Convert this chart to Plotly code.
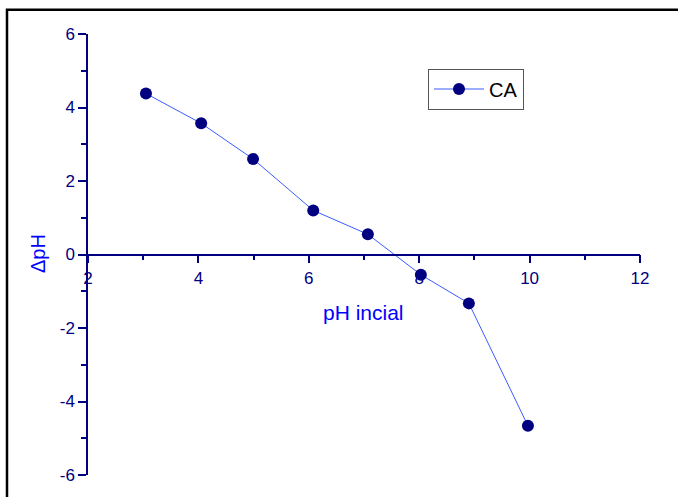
import plotly.graph_objects as go

# Data
ph_initial = [3.05, 4.05, 4.99, 6.08, 7.07, 8.03, 8.90, 9.97]
delta_ph = [4.38, 3.57, 2.60, 1.20, 0.55, -0.55, -1.33, -4.66]
series_name = "CA"
x_ticks = [2, 4, 6, 8, 10, 12]
y_ticks = [-6, -4, -2, 0, 2, 4, 6]

W, H = 678, 497
L, R, T, B = 88, 38, 34, 18
pw, ph = W - L - R, H - T - B

def px_x(p):
    return (p - L) / pw

def px_y(p):
    return (H - B - p) / ph

navy = "#000080"
blue = "#0000ff"
font = "Liberation Sans, Arial, sans-serif"

fig = go.Figure()
fig.add_trace(go.Scatter(
    x=ph_initial, y=delta_ph, name=series_name,
    mode="lines+markers",
    line=dict(color="#3a5cff", width=1),
    marker=dict(color=navy, size=12, symbol="circle"),
))

fig.update_layout(
    width=W, height=H,
    margin=dict(l=L, r=R, t=T, b=B),
    paper_bgcolor="white", plot_bgcolor="white",
    font=dict(family=font, color=navy, size=17),
    showlegend=True,
    legend=dict(
        x=px_x(428), y=px_y(89.5), xanchor="left", yanchor="middle",
        bordercolor="#555555", borderwidth=1, bgcolor="white",
        font=dict(family=font, size=20, color="black"),
        itemwidth=50,
        tracegroupgap=0,
    ),
    xaxis=dict(
        range=[2, 12], tickvals=x_ticks, ticktext=[str(v) for v in x_ticks],
        showgrid=False, zeroline=False,
        showline=True, linecolor=navy, linewidth=1.5,
        ticks="outside", ticklen=8, tickwidth=1.5, tickcolor=navy,
        minor=dict(dtick=1, ticks="outside", ticklen=5, tickwidth=1.5, tickcolor=navy),
        anchor="free", position=0.5,
        tickfont=dict(family=font, size=17, color=navy),
    ),
    yaxis=dict(
        range=[-6, 6], tickvals=y_ticks, ticktext=[str(v) for v in y_ticks],
        showgrid=False, zeroline=False,
        showline=True, linecolor=navy, linewidth=1.5,
        ticks="outside", ticklen=8, tickwidth=1.5, tickcolor=navy,
        minor=dict(dtick=1, ticks="outside", ticklen=5, tickwidth=1.5, tickcolor=navy),
        tickfont=dict(family=font, size=17, color=navy),
    ),
    shapes=[dict(
        type="rect", xref="paper", yref="paper",
        x0=px_x(7), y0=px_y(520), x1=px_x(700), y1=px_y(9.5),
        line=dict(color="black", width=2.5), fillcolor="rgba(0,0,0,0)",
        layer="below",
    )],
    annotations=[
        dict(text="pH incial", xref="paper", yref="paper",
             x=px_x(363), y=px_y(315), showarrow=False,
             xanchor="center", yanchor="middle",
             font=dict(family=font, size=21, color=blue)),
        dict(text="ΔpH", xref="paper", yref="paper",
             x=px_x(38), y=px_y(256), showarrow=False, textangle=-90,
             xanchor="center", yanchor="middle",
             font=dict(family=font, size=20, color=blue)),
    ],
)

fig.write_html("out.html")
